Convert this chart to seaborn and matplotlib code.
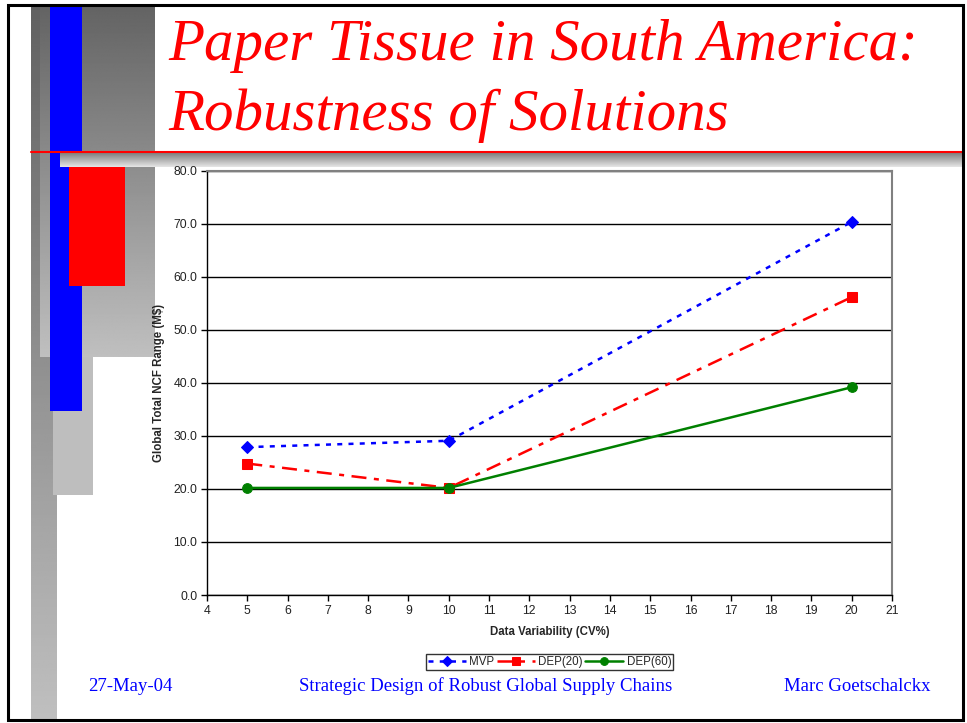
import numpy as np
import pandas as pd
import matplotlib
matplotlib.use("Agg")
import matplotlib.pyplot as plt
from matplotlib.patches import Rectangle
import seaborn as sns

# Data
cv_levels = [5, 10, 20]
mvp = [27.9, 29.1, 70.4]
dep20 = [24.8, 20.2, 56.2]
dep60 = [20.2, 20.2, 39.2]
series_names = ["MVP", "DEP(20)", "DEP(60)"]
x_ticks = list(range(4, 22))
y_ticks = [0, 10, 20, 30, 40, 50, 60, 70, 80]

sns.set_theme(style="white")
plt.rcParams["font.family"] = ["Liberation Sans", "DejaVu Sans"]

W, H = 967, 723
fig = plt.figure(figsize=(W / 100, H / 100), dpi=100)
fig.patch.set_facecolor("white")

# Slide decoration layer in pixel coordinates
bg = fig.add_axes([0, 0, 1, 1], zorder=0)
bg.set_xlim(0, W)
bg.set_ylim(H, 0)
bg.axis("off")


def vgrad(ax, x0, x1, y0, y1, c0, c1, z=1):
    g = np.linspace(c0, c1, 256).reshape(-1, 1)
    ax.imshow(g, cmap="gray", vmin=0, vmax=1, aspect="auto",
              extent=(x0, x1, y1, y0), zorder=z, interpolation="bilinear")


vgrad(bg, 31, 57, 6, 720, 0.38, 0.75, z=1)
vgrad(bg, 40, 155, 6, 357, 0.39, 0.75, z=2)
bg.add_patch(Rectangle((53, 357), 40, 138, color="#bebebe", zorder=3, lw=0))
bg.add_patch(Rectangle((50, 6), 32, 405, color="#0000ff", zorder=4, lw=0))
vgrad(bg, 60, 963, 153, 167, 0.50, 0.90, z=5)
bg.add_patch(Rectangle((69, 167), 56, 119, color="#ff0000", zorder=6, lw=0))
bg.plot([31, 963], [152, 152], color="#ff0000", lw=1.5, zorder=7)
bg.add_patch(Rectangle((8, 5), 955, 715, fill=False, ec="black", lw=2.2, zorder=8))
bg.set_xlim(0, W)
bg.set_ylim(H, 0)

# Title
title_kw = dict(color="#ff0000", fontsize=42.5, fontstyle="italic",
                family="Liberation Serif", va="baseline", ha="left", zorder=9)
bg.text(168, 60, "Paper Tissue in South America:", **title_kw)
bg.text(168, 130, "Robustness of Solutions", **title_kw)

# Footer
foot = dict(color="#0000ff", fontsize=13.5, family="Liberation Serif",
            va="baseline", zorder=9)
bg.text(88, 691, "27-May-04", ha="left", **foot)
bg.text(486, 691, "Strategic Design of Robust Global Supply Chains", ha="center", **foot)
bg.text(930, 691, "Marc Goetschalckx", ha="right", **foot)

# Chart
ax = fig.add_axes([207 / W, 1 - 595 / H, 685 / W, 424 / H], zorder=2)
ax.set_facecolor("white")

df = pd.DataFrame({
    "cv": cv_levels * 3,
    "ncf": mvp + dep20 + dep60,
    "series": np.repeat(series_names, len(cv_levels)),
})

styles = {
    "MVP": dict(color="#0000ff", ls=(0, (2, 2.5)), marker="D", ms=6.5),
    "DEP(20)": dict(color="#ff0000", ls=(0, (6, 3, 2, 3)), marker="s", ms=6.5),
    "DEP(60)": dict(color="#008000", ls="-", marker="o", ms=7),
}
for name in series_names:
    st = styles[name]
    sub = df[df["series"] == name]
    sns.lineplot(data=sub, x="cv", y="ncf", ax=ax, color=st["color"],
                 linestyle=st["ls"], marker=st["marker"], markersize=st["ms"],
                 markeredgecolor=st["color"], markerfacecolor=st["color"],
                 linewidth=1.8, label=name, zorder=3)

ax.set_xlim(4, 21)
ax.set_ylim(0, 80)
ax.set_xticks(x_ticks)
ax.set_xticklabels([str(t) for t in x_ticks])
ax.set_yticks(y_ticks)
ax.set_yticklabels([f"{t:.1f}" for t in y_ticks])
ax.grid(axis="y", color="black", lw=1.0, zorder=0)
ax.grid(axis="x", visible=False)
ax.set_axisbelow(True)
ax.tick_params(axis="both", which="major", direction="out", length=4, width=1,
               color="black", labelsize=8.8, labelcolor="#222222", pad=3)
ax.tick_params(axis="x", bottom=True)
ax.tick_params(axis="y", left=True)
for side in ["left", "bottom"]:
    ax.spines[side].set_color("black")
    ax.spines[side].set_linewidth(1.0)
for side in ["top", "right"]:
    ax.spines[side].set_color("#808080")
    ax.spines[side].set_linewidth(1.5)

ax.set_xlabel("Data Variability (CV%)", fontsize=8.3, fontweight="bold", labelpad=7)
ax.set_ylabel("Global Total NCF Range (M$)", fontsize=8.3, fontweight="bold", labelpad=6)

leg = ax.legend(loc="upper center", bbox_to_anchor=(0.5, -0.125), ncol=3,
                frameon=True, fontsize=8.3, handlelength=3.3, handletextpad=0.3,
                columnspacing=0.2, borderpad=0.2, fancybox=False,
                edgecolor="black", markerscale=0.8)
leg.get_frame().set_linewidth(1.0)

fig.savefig("out.png", dpi=100, facecolor="white")
